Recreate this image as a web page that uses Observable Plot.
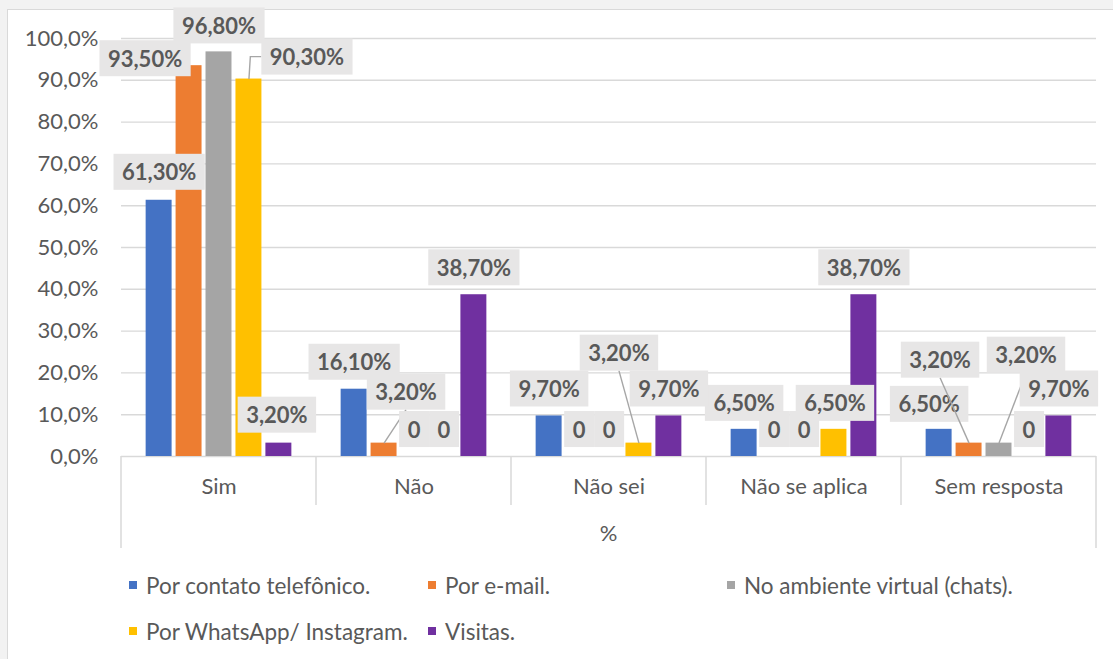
<!DOCTYPE html>
<html>
<head>
<meta charset="utf-8">
<script src="https://cdn.jsdelivr.net/npm/d3@7"></script>
<script src="https://cdn.jsdelivr.net/npm/@observablehq/plot@0.6"></script>
<style>
  html, body { margin: 0; padding: 0; width: 1113px; height: 659px; overflow: hidden; background: #f2f2f2; font-family: Lato, sans-serif; }
  #frame { position: absolute; left: 7px; top: 9px; right: 0; bottom: 0; background: #fff; border-left: 1.5px solid #d9d9d9; border-top: 1.5px solid #d9d9d9; }
  #chart { position: absolute; left: 0; top: 0; }
  #legend { position: absolute; left: 129px; top: 562px; display: grid; grid-template-columns: 299px 299px auto; }
  .item { display: flex; align-items: center; height: 46px; font-size: 22.5px; color: #595959; white-space: nowrap; }
  .sw { width: 8px; height: 8px; margin-right: 9px; flex: none; }
</style>
</head>
<body>
<div id="frame"></div>
<div id="chart"></div>
<div id="legend"></div>
<script>
// ---- data ----
const categories = ["Sim", "Não", "Não sei", "Não se aplica", "Sem resposta"];
const series = ["Por contato telefônico.", "Por e-mail.", "No ambiente virtual (chats).", "Por WhatsApp/ Instagram.", "Visitas."];
const telefone = [61.3, 16.1, 9.7, 6.5, 6.5];
const email    = [93.5, 3.2, 0, 0, 3.2];
const chats    = [96.8, 0, 0, 0, 3.2];
const whatsapp = [90.3, 0, 3.2, 6.5, 0];
const visitas  = [3.2, 38.7, 9.7, 38.7, 9.7];
const yTicks = [0, 10, 20, 30, 40, 50, 60, 70, 80, 90, 100];
const axisTitle = "%";

// ---- styling / label layout ----
const colors = ["#4472C4", "#ED7D31", "#A5A5A5", "#FFC000", "#7030A0"];
const labelNudge = {
  "Sim|0": [0, -27], "Sim|1": [-44, -6], "Sim|2": [0, -25], "Sim|3": [58, -21], "Sim|4": [-2, -27],
  "Não|1": [22, -50],
  "Não sei|3": [-20, -89],
  "Não se aplica|0": [0, -25], "Não se aplica|3": [1, -25],
  "Sem resposta|0": [-10, -24], "Sem resposta|1": [-29, -82], "Sem resposta|2": [27, -87]
};
const leaderKeys = new Set(["Sim|3", "Não|1", "Não sei|3", "Sem resposta|1", "Sem resposta|2"]);

const seriesValues = [telefone, email, chats, whatsapp, visitas];
const rows = [];
series.forEach((s, si) => categories.forEach((c, ci) => rows.push({cat: c, series: s, si, value: seriesValues[si][ci]})));
const fmt = v => v === 0 ? "0" : v.toFixed(2).replace(".", ",") + "%";

const labelMarks = rows.map((d, i) => {
  const [dx, dy] = labelNudge[d.cat + "|" + d.si] ?? [0, -26];
  return Plot.text([d], {
    fx: "cat", x: "series", y: "value", text: r => fmt(r.value),
    dx, dy, fontWeight: "bold", fontSize: 22, fill: "#595959", ariaLabel: () => "lbl" + i
  });
});

const W = 1113, H = 560;
const plot = Plot.plot({
  width: W, height: H,
  marginLeft: 120, marginRight: 16, marginTop: 38, marginBottom: 104,
  style: {fontFamily: "Lato, sans-serif", fontSize: "22px", color: "#595959", background: "transparent", overflow: "visible"},
  fx: {domain: categories, padding: 0, label: null},
  x: {domain: series, paddingInner: 0.133, paddingOuter: 0.823, round: false, axis: null},
  y: {domain: [0, 100], label: null},
  color: {domain: series, range: colors},
  marks: [
    Plot.ruleY(yTicks, {stroke: "#d9d9d9", strokeWidth: 1.4}),
    Plot.axisY(yTicks, {tickSize: 0, tickPadding: 23, fontSize: 22, label: null, fill: "#595959",
      tickFormat: d => d.toFixed(1).replace(".", ",") + "%"}),
    Plot.axisFx({anchor: "bottom", tickSize: 0, tickPadding: 22, fontSize: 22, label: null, fill: "#595959"}),
    Plot.barY(rows, {fx: "cat", x: "series", y: "value", fill: "series"}),
    ...labelMarks
  ]
});
document.getElementById("chart").appendChild(plot);

// ---- decorations computed from the library's scales ----
const ns = "http://www.w3.org/2000/svg";
const svg = plot.tagName.toLowerCase() === "svg" ? plot : plot.querySelector("svg");
const fxS = plot.scale("fx"), yS = plot.scale("y");
const y0 = yS.apply(0);
const deco = d3.select(svg).append("g").attr("stroke", "#d9d9d9").attr("stroke-width", 1.5);
const bounds = categories.map(c => fxS.apply(c));
bounds.push(fxS.apply(categories[categories.length - 1]) + fxS.bandwidth);
bounds.forEach((bx, i) => {
  const outer = i === 0 || i === bounds.length - 1;
  deco.append("line").attr("x1", bx).attr("x2", bx).attr("y1", y0).attr("y2", y0 + (outer ? 92 : 49));
});
d3.select(svg).append("text")
  .attr("x", (bounds[0] + bounds[bounds.length - 1]) / 2).attr("y", y0 + 85)
  .attr("text-anchor", "middle").attr("font-size", 22).attr("fill", "#595959").text(axisTitle);

// label boxes + leader lines
svg.querySelectorAll('text[aria-label^="lbl"]').forEach(t => {
  const g = t.parentNode;
  const i = +t.getAttribute("aria-label").slice(3);
  const d = rows[i];
  const key = d.cat + "|" + d.si;
  const [dx, dy] = labelNudge[key] ?? [0, -26];
  const M = g.getCTM().inverse().multiply(t.getCTM());
  const bb = t.getBBox();
  const bx = bb.x + M.e, by = bb.y + M.f;
  const cx = bx + bb.width / 2, cy = by + bb.height / 2;
  const padX = 8.5, h = 36;
  const left = bx - padX, right = bx + bb.width + padX, top = cy - h / 2, bottom = cy + h / 2;
  if (leaderKeys.has(key)) {
    const barX = M.e - dx, barY = M.f - dy;
    let pts;
    if (barX < left) pts = [[barX, barY], [left - 11, cy], [left, cy]];
    else if (barX > right) pts = [[barX, barY], [right + 11, cy], [right, cy]];
    else pts = [[barX, barY], [cx, bottom]];
    const p = document.createElementNS(ns, "path");
    p.setAttribute("d", "M" + pts.map(q => q.join(",")).join("L"));
    p.setAttribute("fill", "none");
    p.setAttribute("stroke", "#a6a6a6");
    p.setAttribute("stroke-width", "1.4");
    g.insertBefore(p, t);
  }
  const r = document.createElementNS(ns, "rect");
  r.setAttribute("x", left); r.setAttribute("y", top);
  r.setAttribute("width", right - left); r.setAttribute("height", h);
  r.setAttribute("fill", "#e7e6e6");
  g.insertBefore(r, t);
});

// ---- legend ----
const legend = document.getElementById("legend");
series.forEach((s, i) => {
  const it = document.createElement("div");
  it.className = "item";
  it.innerHTML = `<span class="sw" style="background:${colors[i]}"></span><span>${s}</span>`;
  legend.appendChild(it);
});
</script>
</body>
</html>
